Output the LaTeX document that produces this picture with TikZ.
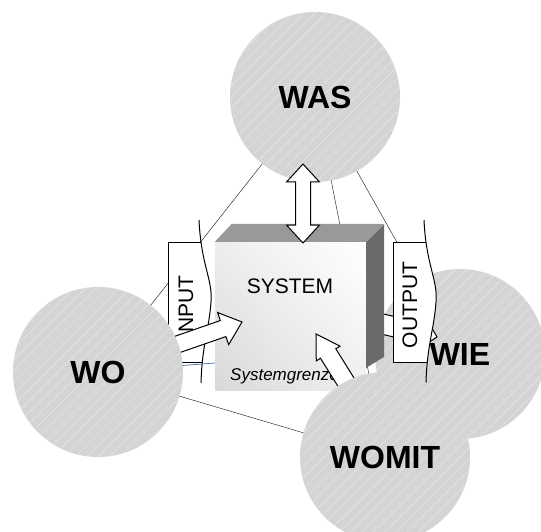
\documentclass[tikz,border=0pt]{standalone}
\usepackage{fontspec}
\setmainfont{Liberation Sans}
\usetikzlibrary{calc,patterns.meta,shadings}

% block arrow: foot, tip, half shaft, half head, head length
\newcommand{\blockarrow}[5]{%
  \path ($(#2)!#5!(#1)$) coordinate (ba-h);
  \filldraw[barrow] ($(#1)!#3!90:(#2)$) -- ($(ba-h)!#3!90:(#2)$) -- ($(ba-h)!#4!90:(#2)$) -- (#2)
    -- ($(ba-h)!#4!-90:(#2)$) -- ($(ba-h)!#3!-90:(#2)$) -- ($(#1)!#3!-90:(#2)$) -- cycle;}
% double block arrow: end a, end b, half shaft, half head, head length
\newcommand{\dblarrow}[5]{%
  \path ($(#1)!#5!(#2)$) coordinate (da-a) ($(#2)!#5!(#1)$) coordinate (da-b);
  \filldraw[barrow] (#1) -- ($(da-a)!#4!90:(#2)$) -- ($(da-a)!#3!90:(#2)$) -- ($(da-b)!#3!-90:(#1)$)
    -- ($(da-b)!#4!-90:(#1)$) -- (#2) -- ($(da-b)!#4!90:(#1)$) -- ($(da-b)!#3!90:(#1)$)
    -- ($(da-a)!#3!-90:(#2)$) -- ($(da-a)!#4!-90:(#2)$) -- cycle;}

\tikzset{flagbox/.pic={
  \begin{scope}
    \clip (-5,-30) -- (31,-22) .. controls (33,23) and (45,38) .. (43,60)
          .. controls (41,88) and (34,103) .. (33,141) -- (-5,150) -- cycle;
    \fill[white] (0,0) rectangle (50,120);
    \draw[banner] (50,0) -- (0,0) -- (0,120) -- (50,120);
  \end{scope}
  \draw[banner] (31,-22) .. controls (33,23) and (45,38) .. (43,60)
        .. controls (41,88) and (34,103) .. (33,141);
}}

\begin{document}
\begin{tikzpicture}[x=1pt, y=-1pt,
  ball/.style={circle, minimum size=170pt, inner sep=0pt, preaction={fill=black!17},
               pattern={Lines[angle=45,distance=8pt,line width=0.6pt]}, pattern color=black!10,
               font=\fontsize{32}{32}\selectfont\bfseries},
  link/.style={black!80, line width=0.5pt},
  sysline/.style={cyan!60!blue!70!black, line width=0.7pt},
  barrow/.style={fill=white, draw=black, line width=1pt, line join=miter},
  banner/.style={draw=black, line width=1pt},
  front/.style={minimum width=151pt, minimum height=148pt, inner sep=0pt, shade,
                upper right=white, upper left=black!7, lower left=black!15, lower right=black!6},
  lbl/.style={font=\fontsize{21}{21}\selectfont}]
\fill[white] (0,0) rectangle (541,532);
\useasboundingbox (0,0) rectangle (541,532);
% centres of the four questions
\coordinate (cWAS) at (315,97);
\coordinate (cWO) at (98,372);
\coordinate (cWIE) at (460,354);
\coordinate (cWOMIT) at (385,457);
% thin links
\draw[link] (cWAS) -- (cWO);
\draw[link] (cWAS) -- (cWIE);
\draw[link] (cWAS) -- (cWOMIT);
\draw[link] (cWO) -- (cWOMIT);
\node[ball] (wie) at (cWIE) {WIE};
% output arrow, behind the cube
\coordinate (outFoot) at (340,314);
\coordinate (outTip) at (437,337);
\blockarrow{outFoot}{outTip}{10pt}{16pt}{15pt}
% the system cube
\node[front] (box) at (290.5,316) {};
\fill[black!40] (box.north west) -- ++(17,-18) -- ++(152,0) -- (box.north east) -- cycle;
\fill[black!58] (box.north east) -- ++(18,-18) -- ++(0,133) -- ($(box.north east)+(0,126)$) -- cycle;
\node[lbl] (sys) at (290,286) {SYSTEM};
\node[font=\fontsize{17}{17}\selectfont\itshape, anchor=west, inner sep=0pt] (grenze) at (230,376) {Systemgrenze};
% output banner
\pic (outflag) at (393,242) {flagbox};
\node[lbl, rotate=90] (outlbl) at (410,305) {OUTPUT};
% WAS and its double arrow
\node[ball] (was) at (cWAS) {WAS};
\coordinate (dTop) at (303,164);
\coordinate (dBot) at (303,243);
\dblarrow{dTop}{dBot}{7.5pt}{16.5pt}{18pt}
% input banner
\pic (inflag) at (168,242) {flagbox};
\node[lbl, rotate=90] (inlbl) at (186,307) {INPUT};
\coordinate (grenzpt) at (215,363);
\draw[sysline] (cWO) -- (grenzpt);
\coordinate (inTip) at (242,322);
\blockarrow{cWO}{inTip}{8.5pt}{17pt}{20pt}
\node[ball] (wo) at (cWO) {WO};
% womit
\coordinate (mitFoot) at (382,440);
\coordinate (mitTip) at (316,334);
\blockarrow{mitFoot}{mitTip}{9pt}{14pt}{23pt}
\node[ball] (womit) at (cWOMIT) {WOMIT};
\end{tikzpicture}
\end{document}
